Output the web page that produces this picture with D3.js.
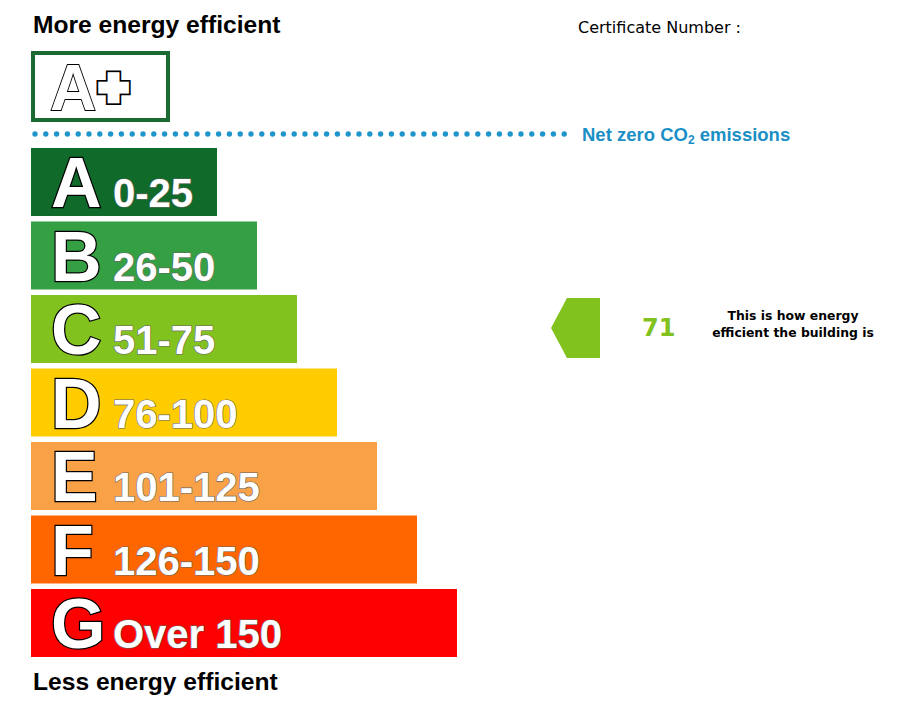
<!DOCTYPE html>
<html><head><meta charset="utf-8">
<script src="https://cdn.jsdelivr.net/npm/d3@7/dist/d3.min.js"></script>
<style>html,body{margin:0;padding:0;background:#fff;}svg{display:block;}</style>
</head><body>
<script>
const bandLetters = ["A","B","C","D","E","F","G"];
const bandRanges = ["0-25","26-50","51-75","76-100","101-125","126-150","Over 150"];
const bandUpper = [25,50,75,100,125,150,Infinity];
const bandColors = ["#106b2b","#34a043","#82c21f","#ffcc00","#f9a146","#ff6600","#ff0000"];
const rating = 71;
const titleTop = "More energy efficient";
const titleBottom = "Less energy efficient";
const certLabel = "Certificate Number :";
const netZeroLabel = "Net zero CO";
const ratingNote = ["This is how energy","efficient the building is"];

(function(){
const W = 917, H = 708;
const svg = d3.select("body").append("svg").attr("width", W).attr("height", H);

const y = d3.scaleBand().domain(bandLetters).range([148, 657]).paddingInner(0.075).paddingOuter(0);
const wScale = d3.scaleLinear().domain([0, bandLetters.length - 1]).range([186, 426]);
const x0 = 31;
const SANS = "Liberation Sans, Arial, sans-serif";

const data = bandLetters.map((l, i) => ({letter: l, range: bandRanges[i], color: bandColors[i], i}));

svg.append("text").attr("x", 33).attr("y", 33).text(titleTop)
  .attr("font-family", SANS).attr("font-weight", "bold").attr("font-size", 24.6).attr("fill", "#000");
svg.append("text").attr("x", 33).attr("y", 690).text(titleBottom)
  .attr("font-family", SANS).attr("font-weight", "bold").attr("font-size", 24.6).attr("fill", "#000");
svg.append("text").attr("x", 578).attr("y", 33).text(certLabel)
  .attr("font-family", "DejaVu Sans, sans-serif").attr("font-size", 16).attr("fill", "#000");

svg.append("rect").attr("x", 33).attr("y", 53).attr("width", 135).attr("height", 67)
  .attr("fill", "#fff").attr("stroke", "#1b6a33").attr("stroke-width", 4);
svg.append("text").attr("x", 50).attr("y", 110).text("A")
  .attr("font-family", SANS).attr("font-weight", "bold").attr("font-size", 64)
  .attr("fill", "#fff").attr("stroke", "#000").attr("stroke-width", 1.8).attr("paint-order", "stroke");
const plusAttrs = sel => sel.attr("x", 113.5).attr("y", 87.5).text("+")
  .attr("font-family", SANS).attr("font-weight", "bold").attr("font-size", 48)
  .attr("text-anchor", "middle").attr("dominant-baseline", "central")
  .attr("stroke-linejoin", "miter").attr("stroke-linecap", "square");
svg.append("text").call(plusAttrs).attr("fill", "#000").attr("stroke", "#000").attr("stroke-width", 10);
svg.append("text").call(plusAttrs).attr("fill", "#fff").attr("stroke", "#fff").attr("stroke-width", 6.5);

const dots = d3.range(35, 566, 10.8);
svg.append("g").selectAll("circle").data(dots).join("circle")
  .attr("cx", d => d).attr("cy", 134).attr("r", 2.7).attr("fill", "#1f95cc");
const nz = svg.append("text").attr("x", 582).attr("y", 141)
  .attr("font-family", SANS).attr("font-weight", "bold").attr("font-size", 18.5).attr("fill", "#1a8fc6");
nz.append("tspan").text(netZeroLabel);
nz.append("tspan").attr("font-size", 12).attr("dy", 3).text("2");
nz.append("tspan").attr("dy", -3).text(" emissions");

const g = svg.append("g").selectAll("g").data(data).join("g")
  .attr("transform", d => `translate(0,${y(d.letter)})`);
g.append("rect").attr("x", x0).attr("y", 0).attr("width", d => wScale(d.i)).attr("height", y.bandwidth())
  .attr("fill", d => d.color);
g.append("text").attr("x", 51).attr("y", 59).text(d => d.letter)
  .attr("font-family", SANS).attr("font-weight", "bold").attr("font-size", 70)
  .attr("fill", "#fff").attr("stroke", "#000").attr("stroke-width", 2.5).attr("paint-order", "stroke");
g.append("text").attr("x", 113).attr("y", 59).text(d => d.range)
  .attr("font-family", SANS).attr("font-weight", "bold").attr("font-size", 40)
  .attr("fill", "#fff").attr("stroke", "#666").attr("stroke-width", 1.2).attr("paint-order", "stroke");

const idx = bandUpper.findIndex(u => rating <= u);
const ry = y(bandLetters[idx]);
const bh = y.bandwidth();
const yTop = ry + 3, yBot = ry + bh - 5, yMid = (yTop + yBot) / 2;
svg.append("path")
  .attr("d", d3.line()([[600, yTop], [567, yTop], [551, yMid], [567, yBot], [600, yBot]]) + "Z")
  .attr("fill", bandColors[idx]);
svg.append("text").attr("x", 642).attr("y", yMid + 8).text(rating)
  .attr("font-family", "DejaVu Sans, sans-serif").attr("font-weight", "bold").attr("font-size", 24)
  .attr("fill", bandColors[idx]);
svg.append("text").attr("x", 793).attr("y", yMid - 8)
  .attr("font-family", "DejaVu Sans, sans-serif").attr("font-weight", "bold").attr("font-size", 12.4)
  .attr("text-anchor", "middle").attr("fill", "#000")
  .selectAll("tspan").data(ratingNote).join("tspan")
  .attr("x", 793).attr("dy", (d, i) => i === 0 ? 0 : 17).text(d => d);
})();
</script>
</body></html>
